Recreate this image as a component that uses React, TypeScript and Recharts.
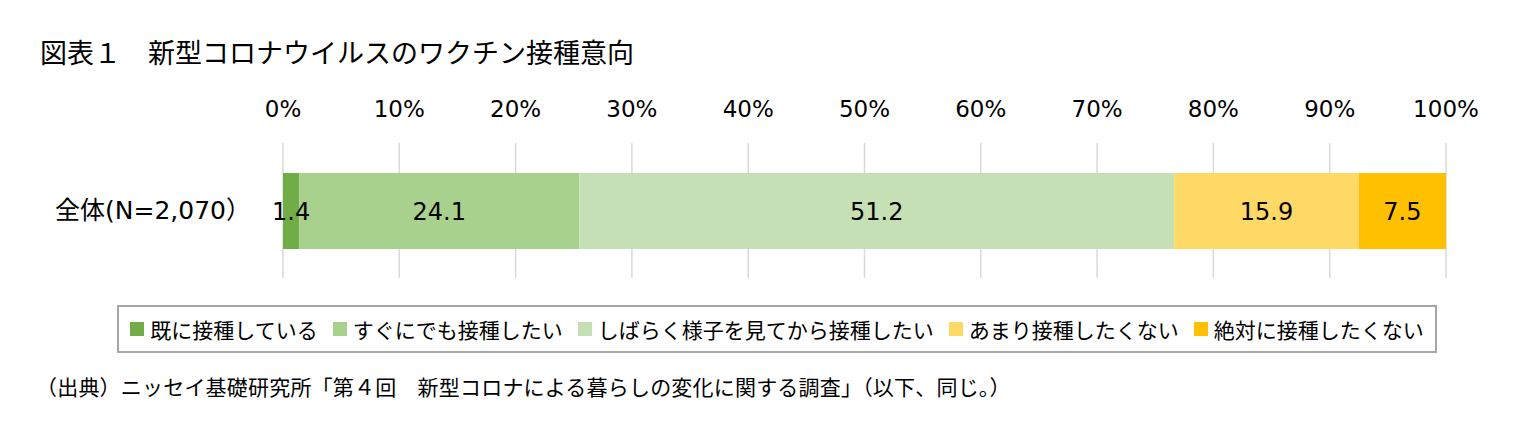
import { BarChart, Bar, XAxis, YAxis, CartesianGrid, LabelList } from 'recharts'

const categories = ['全体(N=2,070）']
const seriesNames = [
  '既に接種している',
  'すぐにでも接種したい',
  'しばらく様子を見てから接種したい',
  'あまり接種したくない',
  '絶対に接種したくない'
]
const seriesValues = [1.4, 24.1, 51.2, 15.9, 7.5]
const seriesColors = ['#70AD47', '#A9D18E', '#C5E0B4', '#FFD966', '#FFC000']
const tickValues = [0, 0.1, 0.2, 0.3, 0.4, 0.5, 0.6, 0.7, 0.8, 0.9, 1]

const title = '図表１　新型コロナウイルスのワクチン接種意向'
const source = '（出典）ニッセイ基礎研究所「第４回　新型コロナによる暮らしの変化に関する調査」（以下、同じ。）'

const JP = "'Noto Sans CJK JP', sans-serif"
const NUM = "'DejaVu Sans', 'Noto Sans CJK JP', sans-serif"

const chartData = categories.map(name => {
  const row: Record<string, string | number> = { name }
  seriesNames.forEach((s, i) => {
    row['s' + i] = seriesValues[i]
  })
  return row
})

export default function App() {
  return (
    <div
      style={{
        position: 'absolute',
        left: 0,
        top: 0,
        width: 1530,
        height: 446,
        background: '#fff',
        overflow: 'hidden'
      }}
    >
      <div
        style={{
          position: 'absolute',
          left: 40,
          top: 34,
          fontFamily: JP,
          fontSize: 27,
          lineHeight: '36px',
          color: '#000',
          whiteSpace: 'nowrap'
        }}
      >
        {title}
      </div>

      <BarChart
        width={1530}
        height={446}
        data={chartData}
        layout='vertical'
        stackOffset='expand'
        margin={{ top: 103, right: 84, left: 0, bottom: 168 }}
        style={{ position: 'absolute', left: 0, top: 0 }}
      >
        <CartesianGrid horizontal={false} stroke='#d9d9d9' strokeWidth={1.5} />
        <XAxis
          type='number'
          orientation='top'
          domain={[0, 1]}
          ticks={tickValues}
          tickFormatter={(v: number) => Math.round(v * 100) + '%'}
          height={40}
          axisLine={false}
          tickLine={false}
          tickSize={0}
          tickMargin={26}
          interval={0}
          tick={{ fontSize: 23, fill: '#000', fontFamily: NUM }}
        />
        <YAxis
          type='category'
          dataKey='name'
          width={283}
          axisLine={false}
          tickLine={false}
          tickSize={0}
          tickMargin={32}
          tick={{ fontSize: 25, fill: '#000', fontFamily: NUM }}
        />
        {seriesNames.map((s, i) => (
          <Bar
            key={s}
            dataKey={'s' + i}
            name={s}
            stackId='a'
            fill={seriesColors[i]}
            barSize={76}
            isAnimationActive={false}
          >
            <LabelList
              dataKey={'s' + i}
              position='center'
              fill='#000'
              fontSize={24}
              fontFamily={NUM}
              formatter={(v: any) => Number(v).toFixed(1)}
            />
          </Bar>
        ))}
      </BarChart>

      {/* legend */}
      <div
        style={{
          position: 'absolute',
          left: 117,
          top: 305,
          width: 1320,
          height: 48,
          boxSizing: 'border-box',
          border: '2px solid #a6a6a6',
          display: 'flex',
          alignItems: 'center',
          justifyContent: 'center',
          gap: 15,
          fontFamily: JP,
          fontSize: 21,
          color: '#000',
          whiteSpace: 'nowrap'
        }}
      >
        {seriesNames.map((s, i) => (
          <span key={s} style={{ display: 'flex', alignItems: 'center', gap: 6 }}>
            <span style={{ width: 14, height: 14, background: seriesColors[i], display: 'inline-block' }} />
            {s}
          </span>
        ))}
      </div>

      <div
        style={{
          position: 'absolute',
          left: 36,
          top: 372,
          fontFamily: JP,
          fontSize: 21,
          letterSpacing: 0.2,
          lineHeight: '28px',
          color: '#000',
          whiteSpace: 'nowrap'
        }}
      >
        {source}
      </div>
    </div>
  )
}
